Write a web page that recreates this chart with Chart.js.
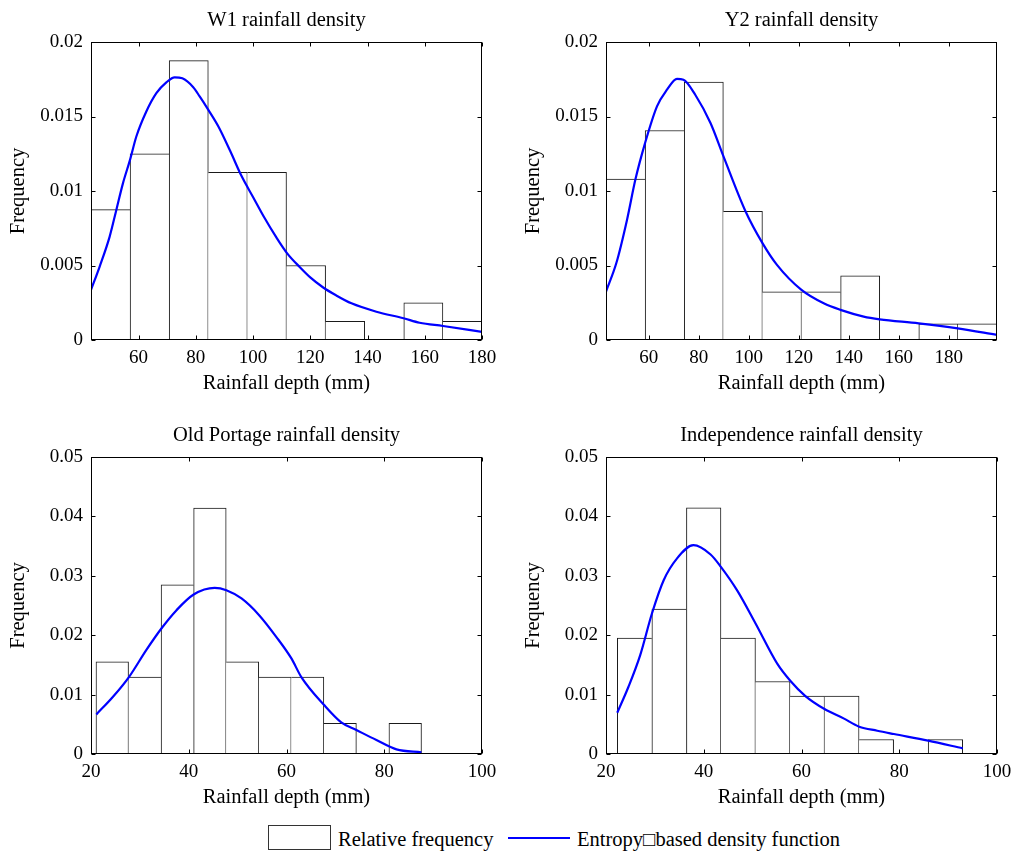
<!DOCTYPE html>
<html><head><meta charset="utf-8">
<script src="https://cdn.jsdelivr.net/npm/chart.js@4.4.1/dist/chart.umd.min.js"></script>
<style>
html,body{margin:0;padding:0;background:#fff;}
body{width:1015px;height:853px;position:relative;overflow:hidden;font-family:'Liberation Serif','Times New Roman',serif;color:#000;}
canvas{position:absolute;}
.lg{position:absolute;font-size:20.5px;line-height:20px;white-space:nowrap;}
</style></head><body>
<canvas id="c1"></canvas><canvas id="c2"></canvas><canvas id="c3"></canvas><canvas id="c4"></canvas>
<div class="lg" style="left:268px;top:825px;width:61px;height:23px;border:1px solid #333;background:#fff;"></div>
<div class="lg" style="left:338px;top:829px;">Relative frequency</div>
<div class="lg" style="left:508px;top:837px;width:62px;height:2px;background:#0000ff;"></div>
<div class="lg" style="left:577px;top:829px;">Entropy□based density function</div>
<script>
// ---------- data ----------
const w1Title = 'W1 rainfall density';
const w1BinCenters = [50.23, 63.89, 77.55, 91.21, 104.87, 118.53, 132.19, 145.85, 159.51, 173.17];
const w1BinFreq = [0.00875, 0.0125, 0.01875, 0.01125, 0.01125, 0.005, 0.00125, 0, 0.0025, 0.00125];
const w1CurveX = [43.4, 46.43, 49.92, 52.25, 54.58, 57.03, 59.24, 62.73, 66.23, 69.72, 72.63, 75.31, 79.04, 81.36, 84.39, 88, 92, 96, 100, 104, 108.1, 112, 116.3, 120, 124.4, 129, 134.4, 143.1, 152.6, 158.2, 166.4, 180];
const w1CurveY = [0.00336, 0.00493, 0.00694, 0.00873, 0.01053, 0.01209, 0.01366, 0.01534, 0.01657, 0.01729, 0.01763, 0.01756, 0.01698, 0.01635, 0.01545, 0.0143, 0.0127, 0.0110, 0.0096, 0.0082, 0.0069, 0.0058, 0.0049, 0.0042, 0.00354, 0.0030, 0.00246, 0.0019, 0.00146, 0.00116, 0.00094, 0.00054];
const w1XRange = [43.4, 180];
const w1XTicks = [60, 80, 100, 120, 140, 160, 180];
const w1XTickLabels = ['60', '80', '100', '120', '140', '160', '180'];

const y2Title = 'Y2 rainfall density';
const y2BinCenters = [50.75, 66.39, 82.03, 97.67, 113.31, 128.95, 144.59, 160.23, 175.87, 191.51];
const y2BinFreq = [0.0108, 0.01406, 0.01731, 0.00864, 0.00323, 0.00323, 0.0043, 0, 0.00108, 0.00108];
const y2CurveX = [42.9, 47.1, 51.3, 54.7, 58.5, 63.3, 67.3, 71.3, 73.9, 78.6, 84.7, 89.9, 98.7, 105.5, 111.3, 121.1, 130.0, 136.7, 146.0, 152.4, 168.0, 183.6, 199.3];
const y2CurveY = [0.00325, 0.0052, 0.00806, 0.0108, 0.0132, 0.01568, 0.0168, 0.01753, 0.01747, 0.01646, 0.01456, 0.01232, 0.00864, 0.0065, 0.00504, 0.00336, 0.00246, 0.00202, 0.00157, 0.00139, 0.00112, 0.00078, 0.00034];
const y2XRange = [42.9, 199.33];
const y2XTicks = [60, 80, 100, 120, 140, 160, 180];
const y2XTickLabels = ['60', '80', '100', '120', '140', '160', '180'];

const topYTicks = [0, 0.005, 0.01, 0.015, 0.02];
const topYTickLabels = ['0', '0.005', '0.01', '0.015', '0.02'];

const opTitle = 'Old Portage rainfall density';
const opBinCenters = [24.35, 31.01, 37.67, 44.33, 50.99, 57.65, 64.31, 70.97, 77.63, 84.29];
const opBinFreq = [0.01553, 0.01294, 0.02847, 0.04141, 0.01553, 0.01294, 0.01294, 0.00518, 0, 0.00518];
const opCurveX = [21.1, 24.5, 27.8, 31.3, 34.4, 37.5, 41.0, 45.3, 47.7, 50.8, 54.4, 57.9, 61.0, 63.0, 67.7, 71.2, 74.3, 78.4, 82.5, 87.6];
const opCurveY = [0.00667, 0.00964, 0.0130, 0.01749, 0.02113, 0.02422, 0.02685, 0.02797, 0.02758, 0.02618, 0.02337, 0.01973, 0.01609, 0.0130, 0.00824, 0.00533, 0.00404, 0.00235, 0.00078, 0.00028];

const indTitle = 'Independence rainfall density';
const indBinCenters = [25.85, 32.92, 39.99, 47.05, 54.12, 61.19, 68.25, 75.32, 82.39, 89.45];
const indBinFreq = [0.01951, 0.02439, 0.04146, 0.01951, 0.0122, 0.00976, 0.00976, 0.00244, 0, 0.00244];
const indCurveX = [22.3, 24.6, 27.0, 29.4, 31.8, 34.5, 37.9, 41.4, 43.5, 46.8, 50.6, 55.0, 57.7, 60.8, 64.7, 68.6, 71.8, 75.5, 78.9, 85.9, 93.0];
const indCurveY = [0.00695, 0.01132, 0.01665, 0.02365, 0.02926, 0.0329, 0.03515, 0.03358, 0.0315, 0.02758, 0.02197, 0.01525, 0.01233, 0.00975, 0.00757, 0.006, 0.0046, 0.00392, 0.00336, 0.00224, 0.00095];

const bottomXRange = [20, 100];
const bottomXTicks = [20, 40, 60, 80, 100];
const bottomXTickLabels = ['20', '40', '60', '80', '100'];
const bottomYTicks = [0, 0.01, 0.02, 0.03, 0.04, 0.05];
const bottomYTickLabels = ['0', '0.01', '0.02', '0.03', '0.04', '0.05'];

const xAxisLabel = 'Rainfall depth (mm)';
const yAxisLabel = 'Frequency';

// ---------- rendering ----------
const FONT = "'Liberation Serif', 'Times New Roman', serif";
const LEFT_W = 91, TITLE_H = 42, XAXIS_H = 65, RIGHT_PAD = 23;

const framePlugin = {
  id: 'frame',
  afterDatasetsDraw(chart) {
    const {ctx, chartArea: a, scales} = chart;
    const L = Math.round(a.left) + 0.5, R = Math.round(a.right) - 0.5;
    const T = Math.round(a.top) + 0.5, B = Math.round(a.bottom) - 0.5;
    const tk = 4;
    ctx.save();
    ctx.strokeStyle = '#000';
    ctx.lineWidth = 1;
    ctx.beginPath();
    scales.x.ticks.forEach(t => {
      const px = Math.round(scales.x.getPixelForValue(t.value)) + 0.5;
      ctx.moveTo(px, B); ctx.lineTo(px, B - tk);
      ctx.moveTo(px, T); ctx.lineTo(px, T + tk);
    });
    scales.y.ticks.forEach(t => {
      const py = Math.round(scales.y.getPixelForValue(t.value)) + 0.5;
      ctx.moveTo(L, py); ctx.lineTo(L + tk, py);
      ctx.moveTo(R, py); ctx.lineTo(R - tk, py);
    });
    ctx.stroke();
    ctx.strokeRect(L, T, R - L, B - T);
    ctx.restore();
  }
};

function binBorder(ctx) {
  const d = ctx.dataset.data;
  const i = ctx.dataIndex;
  const h = d[i].y;
  if (!h) return 0;
  const prev = i > 0 ? d[i - 1].y : -1;
  const next = i < d.length - 1 ? d[i + 1].y : -1;
  return {left: prev < h ? 1 : 0, top: 1, right: next <= h ? 1 : 0, bottom: 0};
}

function makePanel(id, area, title, centers, freq, cx, cy, xRange, xTicks, xLabels, yRange, yTicks, yLabels) {
  const cv = document.getElementById(id);
  const cl = area.left - LEFT_W, ct = area.top - TITLE_H;
  const w = area.right - area.left + LEFT_W + RIGHT_PAD;
  const h = area.bottom - area.top + TITLE_H + XAXIS_H;
  cv.width = w; cv.height = h;
  cv.style.left = cl + 'px'; cv.style.top = ct + 'px';
  cv.style.width = w + 'px'; cv.style.height = h + 'px';
  new Chart(cv, {
    type: 'bar',
    data: {
      datasets: [
        {
          type: 'line',
          data: cx.map((x, i) => ({x: x, y: cy[i]})),
          borderColor: '#0000ff',
          borderWidth: 2.2,
          pointRadius: 0,
          cubicInterpolationMode: 'monotone',
          order: 0
        },
        {
          type: 'bar',
          data: centers.map((x, i) => ({x: x, y: freq[i]})),
          backgroundColor: '#ffffff',
          borderColor: '#1a1a1a',
          borderWidth: binBorder,
          borderSkipped: false,
          barPercentage: 1,
          categoryPercentage: 1,
          order: 1
        }
      ]
    },
    options: {
      responsive: false,
      animation: false,
      devicePixelRatio: 1,
      layout: {padding: {left: 0, right: RIGHT_PAD, top: 0, bottom: 0}},
      plugins: {
        legend: {display: false},
        tooltip: {enabled: false},
        title: {
          display: true, text: title, fullSize: false, color: '#000',
          font: {family: FONT, size: 20.5, weight: 'normal', lineHeight: 1.2},
          padding: {top: 8, bottom: 9.4}
        }
      },
      scales: {
        x: {
          type: 'linear', min: xRange[0], max: xRange[1], offset: false,
          grid: {display: false, drawTicks: false}, border: {display: false},
          afterBuildTicks: s => { s.ticks = xTicks.map(v => ({value: v})); },
          afterFit: s => { s.height = XAXIS_H; },
          ticks: {
            autoSkip: false, maxRotation: 0, padding: 7, color: '#000',
            font: {family: FONT, size: 19},
            callback: v => xLabels[xTicks.indexOf(v)]
          },
          title: {
            display: true, text: xAxisLabel, color: '#000',
            font: {family: FONT, size: 20.5, lineHeight: 1.2},
            padding: {top: 0, bottom: 9}
          }
        },
        y: {
          type: 'linear', min: yRange[0], max: yRange[1],
          grid: {display: false, drawTicks: false}, border: {display: false},
          afterBuildTicks: s => { s.ticks = yTicks.map(v => ({value: v})); },
          afterFit: s => { s.width = LEFT_W; },
          ticks: {
            autoSkip: false, padding: 8, color: '#000',
            font: {family: FONT, size: 19},
            callback: v => yLabels[yTicks.indexOf(v)]
          },
          title: {
            display: true, text: yAxisLabel, color: '#000',
            font: {family: FONT, size: 20.5, lineHeight: 1.2},
            padding: {top: 6, bottom: 0}
          }
        }
      }
    },
    plugins: [framePlugin]
  });
}

makePanel('c1', {left: 91, top: 42, right: 482, bottom: 340}, w1Title, w1BinCenters, w1BinFreq, w1CurveX, w1CurveY,
  w1XRange, w1XTicks, w1XTickLabels, [0, 0.02], topYTicks, topYTickLabels);
makePanel('c2', {left: 606, top: 42, right: 997, bottom: 340}, y2Title, y2BinCenters, y2BinFreq, y2CurveX, y2CurveY,
  y2XRange, y2XTicks, y2XTickLabels, [0, 0.02], topYTicks, topYTickLabels);
makePanel('c3', {left: 91, top: 457, right: 482, bottom: 754}, opTitle, opBinCenters, opBinFreq, opCurveX, opCurveY,
  bottomXRange, bottomXTicks, bottomXTickLabels, [0, 0.05], bottomYTicks, bottomYTickLabels);
makePanel('c4', {left: 606, top: 457, right: 997, bottom: 754}, indTitle, indBinCenters, indBinFreq, indCurveX, indCurveY,
  bottomXRange, bottomXTicks, bottomXTickLabels, [0, 0.05], bottomYTicks, bottomYTickLabels);
</script>
</body></html>
